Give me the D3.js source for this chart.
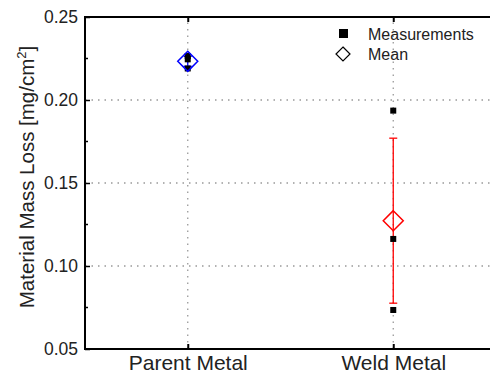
<!doctype html>
<html>
<head>
<script src="https://d3js.org/d3.v7.min.js"></script>
<style>
  body { margin: 0; background: #fff; }
  text { font-family: "Liberation Sans", Arial, sans-serif; }
</style>
</head>
<body>
<div id="chart"></div>
<script>
// data
var categories = ["Parent Metal", "Weld Metal"];
var measurements = [
  [0.2265, 0.2245, 0.2190],
  [0.1936, 0.1163, 0.0735]
];
var means = [0.2233, 0.1273];
var errors = [0.003, 0.0497];
var meanColors = ["#0000ff", "#ff0000"];
var yTicks = [0.05, 0.10, 0.15, 0.20, 0.25];
var yMinor = [0.075, 0.125, 0.175, 0.225];

var W = 490, H = 374;
var margin = {top: 17, right: -6, bottom: 25, left: 85};

var svg = d3.select("#chart").append("svg")
    .attr("width", W).attr("height", H);

var x = d3.scaleLinear().domain([0.5, 2.5]).range([margin.left, W - margin.right]);
var y = d3.scaleLinear().domain([0.05, 0.25]).range([H - margin.bottom, margin.top]);

// grid
svg.append("g").selectAll("line")
  .data([0.10, 0.15, 0.20]).enter().append("line")
    .attr("x1", x(0.5)).attr("x2", x(2.5))
    .attr("y1", function(d) { return y(d); }).attr("y2", function(d) { return y(d); })
    .attr("stroke", "#999").attr("stroke-width", 1.3).attr("stroke-dasharray", "1.5,5");
svg.append("g").selectAll("line")
  .data(categories).enter().append("line")
    .attr("x1", function(d, i) { return x(i + 1); }).attr("x2", function(d, i) { return x(i + 1); })
    .attr("y1", y(0.05)).attr("y2", y(0.25))
    .attr("stroke", "#999").attr("stroke-width", 1.3).attr("stroke-dasharray", "1.5,5");

// frame
svg.append("rect")
    .attr("x", x(0.5)).attr("y", y(0.25))
    .attr("width", x(2.5) - x(0.5)).attr("height", y(0.05) - y(0.25))
    .attr("fill", "none").attr("stroke", "#000").attr("stroke-width", 2);

// y axis
var yAxis = d3.axisLeft(y).tickValues(yTicks).tickFormat(d3.format(".2f"))
    .tickSizeInner(-5).tickSizeOuter(0).tickPadding(7);
var ga = svg.append("g").attr("transform", "translate(" + x(0.5) + ",0)").call(yAxis);
ga.select(".domain").remove();
ga.selectAll(".tick line").attr("stroke-width", 1.5);
ga.selectAll("text").style("font-size", "17.5px").attr("fill", "#222");
svg.append("g").selectAll("line")
  .data(yMinor).enter().append("line")
    .attr("x1", x(0.5)).attr("x2", x(0.5) + 3)
    .attr("y1", function(d) { return y(d); }).attr("y2", function(d) { return y(d); })
    .attr("stroke", "#000").attr("stroke-width", 1.5);

// x axis
var xAxis = d3.axisBottom(x).tickValues([1, 2])
    .tickFormat(function(d) { return categories[d - 1]; })
    .tickSizeInner(-5).tickSizeOuter(0).tickPadding(6);
var gx = svg.append("g").attr("transform", "translate(0," + y(0.05) + ")").call(xAxis);
gx.select(".domain").remove();
gx.selectAll(".tick line").attr("stroke-width", 2);
gx.selectAll("text").style("font-size", "21px").attr("fill", "#222");
var gt = svg.append("g").attr("transform", "translate(0," + y(0.25) + ")")
    .call(d3.axisTop(x).tickValues([1, 2]).tickFormat("").tickSizeInner(-5).tickSizeOuter(0));
gt.select(".domain").remove();
gt.selectAll(".tick line").attr("stroke-width", 2);

// y title
var title = svg.append("text")
    .attr("transform", "translate(34,177) rotate(-90)")
    .attr("text-anchor", "middle")
    .style("font-size", "20.5px").attr("fill", "#222");
title.append("tspan").text("Material Mass Loss [mg/cm");
title.append("tspan").attr("dy", -8).style("font-size", "13px").text("2");
title.append("tspan").attr("dy", 8).text("]");

// error bars
categories.forEach(function(c, i) {
  var cx = x(i + 1), col = meanColors[i];
  var g = svg.append("g").attr("stroke", col).attr("stroke-width", 1.3);
  g.append("line").attr("x1", cx).attr("x2", cx)
    .attr("y1", y(means[i] - errors[i])).attr("y2", y(means[i] + errors[i]));
  [means[i] - errors[i], means[i] + errors[i]].forEach(function(v) {
    g.append("line").attr("x1", cx - 4).attr("x2", cx + 4).attr("y1", y(v)).attr("y2", y(v));
  });
});

// measurements
categories.forEach(function(c, i) {
  svg.append("g").selectAll("rect")
    .data(measurements[i]).enter().append("rect")
      .attr("x", x(i + 1) - 3).attr("y", function(d) { return y(d) - 3; })
      .attr("width", 6).attr("height", 6).attr("fill", "#000");
});

// means
var diamond = "M0,-10L10,0L0,10L-10,0Z";
categories.forEach(function(c, i) {
  svg.append("path")
    .attr("d", diamond)
    .attr("transform", "translate(" + x(i + 1) + "," + y(means[i]) + ")")
    .attr("fill", "none").attr("stroke", meanColors[i]).attr("stroke-width", 1.5);
});

// legend
svg.append("rect").attr("x", 339).attr("y", 29).attr("width", 9).attr("height", 9).attr("fill", "#000");
svg.append("path").attr("d", "M0,-7L7,0L0,7L-7,0Z").attr("transform", "translate(343,54)")
    .attr("fill", "none").attr("stroke", "#000").attr("stroke-width", 1.2);
svg.append("text").attr("x", 368).attr("y", 34).attr("dy", "0.35em")
    .style("font-size", "16px").attr("fill", "#222").text("Measurements");
svg.append("text").attr("x", 368).attr("y", 54).attr("dy", "0.35em")
    .style("font-size", "16px").attr("fill", "#222").text("Mean");
</script>
</body>
</html>
